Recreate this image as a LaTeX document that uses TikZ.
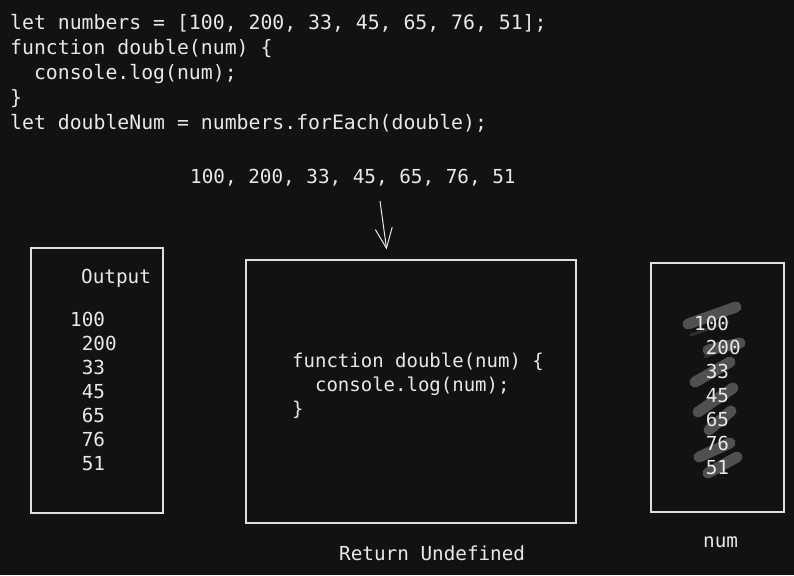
\documentclass[tikz,border=0pt]{standalone}
\usepackage{fontspec}
\setmonofont{DejaVu Sans Mono}
\usetikzlibrary{positioning,arrows.meta}
\definecolor{bgdark}{HTML}{121212}
\definecolor{inkwhite}{HTML}{E8E8E8}
\definecolor{boxline}{HTML}{DEDEDE}
\definecolor{scratch}{HTML}{505050}
\definecolor{scratchdim}{HTML}{2E2E2E}
\tikzset{codetext/.style={text=inkwhite, inner sep=0pt, align=left, font=\ttfamily\fontsize{19.8}{25}\selectfont}}
\tikzset{labtext/.style={codetext, font=\ttfamily\fontsize{19.3}{24}\selectfont}}
\tikzset{sketchbox/.style={draw=boxline, line width=1.3pt, inner sep=0pt}}
\tikzset{arr/.style={draw=inkwhite, line width=1pt, -{Straight Barb[length=20pt,width=17pt]}, shorten >=10pt}}
\tikzset{strike/.style={draw=scratch, line width=11pt, line cap=round}}
\tikzset{faint/.style={draw=scratchdim, line width=3pt, line cap=round}}

\begin{document}
\begin{tikzpicture}[x=1pt,y=-1pt]
	\fill[bgdark] (0,0) rectangle (794,575);
	\useasboundingbox (0,0) rectangle (794,575);
	% source code
	\node[codetext, anchor=north west] at (10,14) (code) {let numbers = [100, 200, 33, 45, 65, 76, 51];\\
		function double(num) \{\\
		\phantom{aa}console.log(num);\\
		\}\\
		let doubleNum = numbers.forEach(double);};
	\node[labtext, anchor=base west] at (190,183) (inputs) {100, 200, 33, 45, 65, 76, 51};
	% boxes
	\node[sketchbox, minimum width=132pt, minimum height=265pt] at (97,380.5) (outbox) {};
	\node[sketchbox, minimum width=330pt, minimum height=263pt] at (411,391.5) (fnbox) {};
	\node[sketchbox, minimum width=133pt, minimum height=249pt] at (717.5,387.5) (numbox) {};
	\coordinate (feed) at (380,201);
	\draw[arr] (feed) -- ([xshift=-23pt]fnbox.north);
	% crossed out values
	\draw[faint] (691,335) -- (728,322);
	\draw[faint] (705,357) -- (738,343);
	\draw[strike] (688,324) -- (736,307);
	\draw[strike] (708,350) -- (740,343);
	\draw[strike] (695,382) -- (730,362);
	\draw[strike] (698,412) -- (733,388);
	\draw[strike] (709,430) -- (731,411);
	\draw[strike] (699,457) -- (730,443);
	\draw[strike] (708,473) -- (737,457);
	% box contents
	\node[labtext, anchor=north west] at (81,269) (outtitle) {Output};
	\node[labtext, anchor=north west] at (70,312) (outvals) {100\\
		\phantom{0}200\\ \phantom{0}33\\ \phantom{0}45\\ \phantom{0}65\\ \phantom{0}76\\ \phantom{0}51};
	\node[labtext, anchor=north west, font=\ttfamily\fontsize{19}{24}\selectfont] at (292,353) (fnbody) {function double(num) \{\\
		\phantom{aa}console.log(num);\\
		\}};
	\node[labtext, anchor=north west] at (694,316) (numvals) {100\\
		\phantom{0}200\\ \phantom{0}33\\ \phantom{0}45\\ \phantom{0}65\\ \phantom{0}76\\ \phantom{0}51};
	\node[labtext, anchor=base west] at (339,560) (retlabel) {Return Undefined};
	\node[labtext, anchor=base west] at (703,547) (numlabel) {num};
\end{tikzpicture}
\end{document}
